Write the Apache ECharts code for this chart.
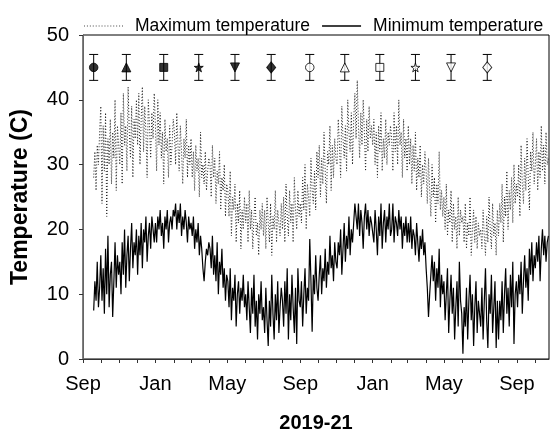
<!DOCTYPE html>
<html>
<head>
<meta charset="utf-8">
<script src="https://cdn.jsdelivr.net/npm/echarts@6/dist/echarts.min.js"></script>
<style>
html,body{margin:0;padding:0;background:#fff;}
#c{width:552px;height:438px;}
</style>
</head>
<body>
<div id="c"></div>
<script>
// ---- data (2-day steps from 2019-09-19) ----
const seriesStart = '2019-09-19';
const stepDays = 2;
const maxTemp = [
  28, 32, 26, 33, 30, 35,                                  // Sep 2019
  39, 24, 36, 29, 38, 22, 34, 30, 37, 27, 35, 31, 40, 26, 36, 33, // Oct
  30, 38, 27, 41, 33, 36, 29, 42, 35, 31, 39, 28, 37, 34, 40,     // Nov
  33, 41, 30, 37, 42, 32, 39, 35, 28, 40, 36, 31, 38, 34, 41,     // Dec
  36, 29, 40, 33, 38, 31, 35, 27, 37, 32, 34, 28, 36, 30, 33, 37, // Jan 2020
  35, 30, 38, 33, 29, 36, 32, 27, 34, 31, 37, 28, 33, 30,         // Feb
  34, 28, 32, 26, 33, 29, 31, 25, 35, 28, 30, 27, 32, 26, 29, 31, // Mar
  30, 25, 33, 28, 31, 24, 29, 27, 32, 23, 28, 26, 30, 22, 27,     // Apr
  26, 22, 29, 19, 25, 23, 27, 18, 24, 21, 26, 17, 23, 20, 25,     // May
  21, 24, 18, 26, 20, 23, 17, 22, 25, 19, 21, 16, 23, 20, 24,     // Jun
  19, 23, 17, 25, 21, 18, 24, 16, 22, 20, 26, 18, 23, 21, 19, 24, // Jul
  20, 25, 18, 27, 22, 19, 26, 21, 24, 18, 28, 23, 20, 26, 22,     // Aug
  24, 21, 28, 23, 30, 20, 27, 25, 22, 31, 26, 24, 29, 23, 32,     // Sep
  28, 33, 25, 31, 27, 35, 29, 24, 32, 30, 36, 26, 33, 28, 34, 31, // Oct
  30, 37, 33, 28, 39, 34, 31, 36, 29, 40, 35, 32, 38, 30, 37,     // Nov
  41, 34, 43, 36, 31, 38, 33, 40, 35, 29, 37, 32, 39, 34, 36,     // Dec
  33, 37, 30, 35, 28, 36, 32, 38, 29, 34, 31, 37, 30, 35, 33, 36, // Jan 2021
  34, 29, 38, 32, 36, 30, 40, 33, 35, 28, 37, 31, 34, 29,         // Feb
  36, 30, 34, 27, 33, 29, 35, 26, 31, 28, 33, 25, 30, 27, 32,     // Mar
  29, 24, 31, 26, 22, 30, 25, 28, 21, 27, 24, 32, 23, 26, 22,     // Apr
  25, 20, 27, 19, 23, 21, 26, 18, 24, 20, 22, 17, 25, 19, 23, 21, // May
  22, 18, 24, 17, 21, 19, 25, 16, 20, 23, 18, 22, 17, 21, 19,     // Jun
  20, 17, 23, 19, 16, 22, 18, 25, 20, 17, 24, 19, 21, 16, 23,     // Jul
  19, 24, 21, 27, 18, 25, 22, 29, 20, 26, 23, 28, 21, 30, 24, 27, // Aug
  25, 30, 22, 33, 27, 24, 31, 26, 34, 28, 23, 32, 29, 35, 27,     // Sep
  30, 34, 26, 32, 28, 36, 29, 33, 27, 35, 30, 31                  // Oct
];
const minTemp = [
  7.5, 12, 9, 15, 8, 11,                                          // Sep 2019
  16, 9, 14, 7, 17, 10, 19, 8, 13, 15, 6.5, 12, 18, 11, 16, 13,   // Oct
  15, 10, 18, 13, 20, 11, 16, 19, 12, 17, 21, 14, 18, 16, 20,     // Nov
  13, 19, 16, 21, 14, 20, 18, 22, 15, 19, 21, 17, 22, 20, 18,     // Dec
  21, 18, 22, 20, 23, 19, 21, 17, 22, 20, 23, 18, 21, 22, 20, 23, // Jan 2020
  22, 24, 20, 23, 21, 24, 19, 22, 20, 23, 21, 18, 22, 20,         // Feb
  21, 19, 22, 17, 20, 18, 21, 16, 19, 17, 14, 12, 15, 17, 16, 18, // Mar
  17, 14, 19, 13, 16, 12, 18, 10, 15, 13, 17, 11, 14, 9, 13,      // Apr
  12, 8, 14, 6, 11, 9, 13, 5, 10, 12, 7, 11, 9, 13, 8,            // May
  10, 6, 12, 8, 4, 11, 7, 13, 5, 9, 3, 10, 7, 12, 6,              // Jun
  8, 4, 11, 6, 2, 9, 5, 13, 7, 3, 10, 6, 12, 4, 8, 11,            // Jul
  9, 5, 12, 7, 14, 3, 10, 6, 13, 8, 4, 11, 2.3, 14, 9,            // Aug
  8, 12, 5, 10, 14, 7, 11, 9, 18.5, 12, 4.2, 13, 10, 16, 11,      // Sep
  9, 13, 16, 10, 14, 12, 17, 11, 15, 13, 19, 14, 16, 12, 18, 15,  // Oct
  14, 18, 16, 20, 13, 17, 21, 15, 19, 17, 22, 16, 20, 18, 21,     // Nov
  24, 22, 20, 24, 19, 23, 21, 17, 22, 24, 20, 23, 19, 22, 21,     // Dec
  21, 18, 23, 20, 16, 22, 19, 24, 17, 21, 23, 18, 22, 20, 24, 19, // Jan 2021
  20, 24, 18, 22, 21, 19, 23, 20, 22, 17, 21, 19, 22, 18,         // Feb
  21, 18, 22, 17, 20, 19, 16, 21, 18, 15, 19, 17, 20, 16, 18,     // Mar
  14, 11, 6.5, 10, 13, 16, 12, 15, 9, 14, 11, 17, 8, 13, 10,      // Apr
  12, 6, 10, 14, 4, 9, 13, 7, 11, 3, 8, 12, 5, 15, 9, 7,          // May
  0.8, 8, 5, 11, 3, 9, 13, 6, 10, 2, 8, 12, 4, 9, 7,              // Jun
  5, 11, 3, 9, 14, 6, 1.7, 10, 7, 13, 4, 8, 12, 1.7, 9,           // Jul
  3, 9, 6, 12, 4, 10, 14, 7, 11, 5, 13, 8, 15, 2.3, 10, 12,       // Aug
  8, 13, 10, 15, 7, 12, 16, 11, 14, 9, 17, 13, 18, 12, 16,        // Sep
  14, 18, 15, 19, 12, 17, 20, 16, 19, 15, 18, 19                  // Oct
];
// sampling events (marker row with error bars)
const sampleDates = ['2019-09-19','2019-11-13','2020-01-15','2020-03-14','2020-05-14','2020-07-14',
                     '2020-09-17','2020-11-15','2021-01-13','2021-03-14','2021-05-13','2021-07-13'];
const sampleMean = [45,45,45,45,45,45,45,45,45,45,45,45];
const sampleLow  = [43,43,43,43,43,43,43,43,43,43,43,43];
const sampleHigh = [47,47,47,47,47,47,47,47,47,47,47,47];
const monthNames = ['Jan','Feb','Mar','Apr','May','Jun','Jul','Aug','Sep','Oct','Nov','Dec'];
const axisStart = '2019-09-01';
const axisEnd = '2021-10-25';

// ---- build ----
const DAY = 86400000;
function ts(s){ const p = s.split('-').map(Number); return Date.UTC(p[0], p[1]-1, p[2]); }
const t0 = ts(seriesStart);
const maxData = maxTemp.map((v,i)=>[t0 + i*stepDays*DAY, v]);
const minData = minTemp.map((v,i)=>[t0 + i*stepDays*DAY, v]);

const monthStarts = [], labelStarts = [];
for (let y = 2019, m = 8; ; ) {
  const t = Date.UTC(y, m, 1);
  if (t > ts(axisEnd)) break;
  monthStarts.push(t);
  if (m === 8 || m === 0 || m === 4) labelStarts.push(t);
  m++; if (m > 11) { m = 0; y++; }
}

const starPath = 'path://M50,0 L61,35 L98,35 L68,57 L79,91 L50,70 L21,91 L32,57 L2,35 L39,35 Z';
const shapes = ['circle','triangle','rect','star','dtriangle','diamond',
                'circle','triangle','rect','star','dtriangle','diamond'];
function shapeStyle(s, i){
  const filled = i < 6;
  const o = { symbol: s, symbolSize: 8, symbolRotate: 0 };
  if (s === 'triangle') { o.symbolSize = [9,9]; }
  if (s === 'dtriangle') { o.symbol = 'triangle'; o.symbolRotate = 180; o.symbolSize = [9,9]; }
  if (s === 'rect') { o.symbolSize = 8; }
  if (s === 'star') { o.symbol = starPath; o.symbolSize = 9; }
  if (s === 'diamond') { o.symbolSize = [9,11]; }
  if (s === 'circle') { o.symbolSize = 8.5; }
  o.itemStyle = { color: filled ? '#000' : '#fff', borderColor: '#000', borderWidth: 1 };
  return o;
}
const markerData = sampleDates.map((d,i)=>Object.assign({ value: [ts(d), sampleMean[i]] }, shapeStyle(shapes[i], i)));
const errData = sampleDates.map((d,i)=>[ts(d), sampleLow[i], sampleHigh[i]]);

// legend icons: dotted and solid line samples
let dotPath = 'path://';
for (let i = 0; i < 14; i++) dotPath += 'M' + (i*3) + ',0h1v1h-1z';
const solidPath = 'path://M0,0h40v1.3h-40z';

const FONT = '"Liberation Sans", Arial, sans-serif';
const chart = echarts.init(document.getElementById('c'), null, {renderer:'canvas'});
chart.setOption({
  animation: false,
  backgroundColor: '#fff',
  textStyle: { fontFamily: FONT },
  grid: { left: 83, right: 3, top: 35, bottom: 75, show: true, borderColor: '#000', borderWidth: 1 },
  legend: {
    left: 79, top: 12, itemWidth: 39, itemHeight: 14, itemGap: 12,
    textStyle: { fontSize: 17.5, color: '#000', fontFamily: FONT, padding: [0,0,0,7] },
    data: [
      { name: 'Maximum temperature', icon: dotPath, itemStyle: { color: '#444' } },
      { name: 'Minimum temperature', icon: solidPath, itemStyle: { color: '#000' } }
    ]
  },
  xAxis: {
    type: 'value', min: ts(axisStart), max: ts(axisEnd),
    splitLine: { show: false },
    axisLine: { show: true, lineStyle: { color: '#333', width: 1 } },
    axisTick: { show: true, customValues: monthStarts, length: 4, lineStyle: { color: '#333' } },
    axisLabel: {
      customValues: labelStarts, fontSize: 20, color: '#000', margin: 15, fontFamily: FONT,
      formatter: v => monthNames[new Date(v).getUTCMonth()]
    },
    name: '2019-21', nameLocation: 'middle', nameGap: 54,
    nameTextStyle: { fontSize: 20, fontWeight: 'bold', color: '#000', fontFamily: FONT }
  },
  yAxis: {
    type: 'value', min: 0, max: 50, interval: 10,
    splitLine: { show: false },
    axisLine: { show: true, lineStyle: { color: '#666', width: 1 } },
    axisTick: { show: true, length: 4, lineStyle: { color: '#333' } },
    axisLabel: { fontSize: 20, color: '#000', margin: 14, fontFamily: FONT },
    name: 'Temperature (C)', nameLocation: 'middle', nameGap: 51,
    nameTextStyle: { fontSize: 23, fontWeight: 'bold', color: '#000', fontFamily: FONT }
  },
  series: [
    { name: 'Maximum temperature', type: 'line', data: maxData, symbol: 'none',
      lineStyle: { color: '#222', width: 1, type: [1, 2] }, itemStyle: { color: '#222' }, z: 2 },
    { name: 'Minimum temperature', type: 'line', data: minData, symbol: 'none',
      lineStyle: { color: '#000', width: 1.2, type: 'solid' }, itemStyle: { color: '#000' }, z: 3 },
    { name: 'err', type: 'custom', z: 4, data: errData, encode: { x: 0, y: [1,2] },
      renderItem: function(params, api){
        const top = api.coord([api.value(0), api.value(2)]);
        const bot = api.coord([api.value(0), api.value(1)]);
        const h = 4.5, st = { stroke: '#000', lineWidth: 1 };
        return { type: 'group', children: [
          { type: 'line', shape: { x1: top[0], y1: top[1], x2: bot[0], y2: bot[1] }, style: st },
          { type: 'line', shape: { x1: top[0]-h, y1: top[1], x2: top[0]+h, y2: top[1] }, style: st },
          { type: 'line', shape: { x1: bot[0]-h, y1: bot[1], x2: bot[0]+h, y2: bot[1] }, style: st }
        ]};
      }
    },
    { name: 'samples', type: 'scatter', z: 5, data: markerData }
  ]
});
</script>
</body>
</html>
